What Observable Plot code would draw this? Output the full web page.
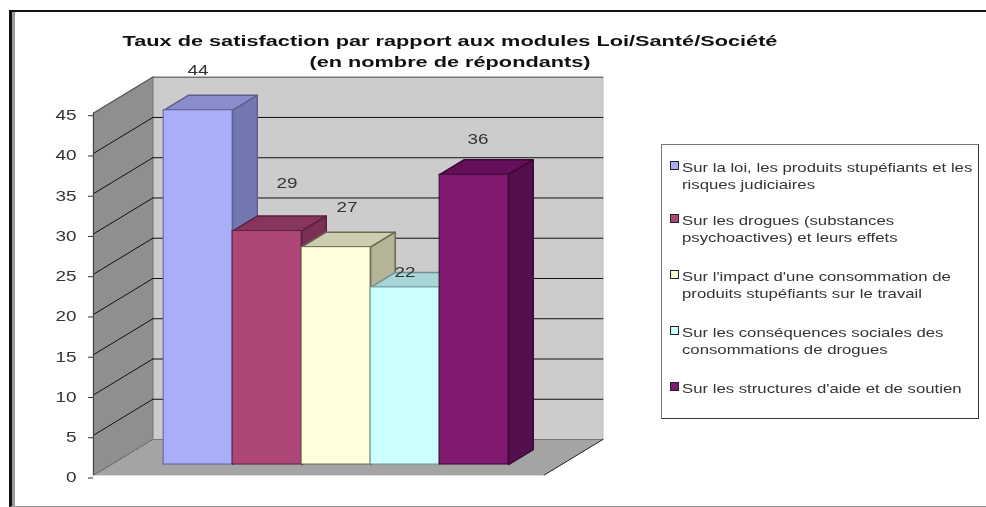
<!DOCTYPE html>
<html>
<head>
<meta charset="utf-8">
<script src="https://cdn.jsdelivr.net/npm/d3@7"></script>
<script src="https://cdn.jsdelivr.net/npm/@observablehq/plot@0.6"></script>
<style>
  html, body { margin: 0; padding: 0; background: #fff; }
  #page { position: relative; width: 986px; height: 507px; overflow: hidden; font-family: "Liberation Sans", Arial, sans-serif; }
  #chart { position: absolute; left: 0; top: 0; filter: blur(0.65px); }
  #edge { position: absolute; left: 9px; top: 10px; right: -4px; bottom: 0; border-top: 2px solid #111; border-left: 3px solid #111; box-shadow: inset 3px 0 0 #999; border-bottom: 1px solid #999; box-sizing: border-box; filter: blur(0.4px); }
  #title { position: absolute; left: 0; width: 900px; top: 30px; text-align: center; font-weight: bold; font-size: 15.2px; line-height: 21px; color: #111; filter: blur(0.5px); transform: scaleX(1.43); transform-origin: 450px 0; }
  #legend { position: absolute; left: 661px; top: 144px; width: 318px; height: 275px; box-sizing: border-box; border: 1px solid #333; border-left-color: #777; border-top-color: #777; filter: blur(0.6px); color: #333; font-size: 13.4px; line-height: 16.5px; }
  .item { position: absolute; left: 19.5px; width: 295px; }
  .row { transform: scaleX(1.25); transform-origin: 0 0; white-space: nowrap; }
  .key { position: absolute; left: -12px; top: 1px; width: 7px; height: 7px; border: 1px solid #222; }
</style>
</head>
<body>
<div id="page">
  <div id="chart"></div>
  <div id="edge"></div>
  <div id="title">Taux de satisfaction par rapport aux modules Loi/Santé/Société<br>(en nombre de répondants)</div>
  <div id="legend"></div>
</div>
<script>
const categories = [
  "Sur la loi, les produits stupéfiants et les risques judiciaires",
  "Sur les drogues (substances psychoactives) et leurs effets",
  "Sur l'impact d'une consommation de produits stupéfiants sur le travail",
  "Sur les conséquences sociales des consommations de drogues",
  "Sur les structures d'aide et de soutien"
];
const values = [44, 29, 27, 22, 36];
const yTicks = [0, 5, 10, 15, 20, 25, 30, 35, 40, 45];

// styles and layout, kept apart from the data
const legendLines = [
  ["Sur la loi, les produits stupéfiants et les", "risques judiciaires"],
  ["Sur les drogues (substances", "psychoactives) et leurs effets"],
  ["Sur l'impact d'une consommation de", "produits stupéfiants sur le travail"],
  ["Sur les conséquences sociales des", "consommations de drogues"],
  ["Sur les structures d'aide et de soutien"]
];
const legendTops = [15, 68, 124, 180, 236];
const front = ["#a8aef8", "#ac4778", "#ffffdc", "#ccffff", "#7f1a70"];
const side  = ["#7478b0", "#7a3055", "#b5b398", "#90b5b5", "#560f4e"];
const top_  = ["#8a8ccb", "#88355e", "#cfcdb0", "#a8d5d5", "#650f5a"];
const edge  = ["#5c5f90", "#5a2040", "#6a6a50", "#6f9090", "#3a0835"];
const labelNudge = [[0, -40], [20, -48], [11, -40], [0, -15], [4, -35]];

// oblique projection: category units along x, value units along y, depth 0..1 into the chart
const xMin = -0.754, xMax = 5.768;
const depthX = 0.86, depthY = 4.47;
const pt = (x, v, d) => ({px: x + d * depthX, py: v + d * depthY});
const face = (corners, opts) => Plot.line(
  [...corners, corners[0]].map(([x, v, d]) => pt(x, v, d)),
  {x: "px", y: "py", curve: "linear", ...opts}
);
const seg = (a, b, opts) => Plot.line([pt(...a), pt(...b)], {x: "px", y: "py", stroke: "#111", strokeWidth: 1, ...opts});

const marks = [
  // back wall, side wall, floor
  face([[xMin,0,1],[xMax,0,1],[xMax,45,1],[xMin,45,1]], {fill: "#cccccc", stroke: "#c4c4c4"}),
  face([[xMin,0,0],[xMin,0,1],[xMin,45,1],[xMin,45,0]], {fill: "#8f8f8f", stroke: "#808080"}),
  face([[xMin,0,0],[xMax,0,0],[xMax,0,1],[xMin,0,1]], {fill: "#a4a4a4", stroke: "none"}),
  seg([xMin,45,1],[xMax,45,1],{stroke:"#555"}),
  seg([xMin,0,1],[xMax,0,1],{stroke:"#777"}),
  seg([xMin,0,0],[xMin,0,1],{stroke:"#666", strokeDasharray:"3 2"}),
  seg([xMax,0,0],[xMax,0,1],{stroke:"#222"}),
  seg([xMin,0,0],[xMax,0,0],{stroke:"#ddd"})
];
for (const v of yTicks.filter(t => t > 0 && t < 45)) {
  marks.push(seg([xMin,v,0],[xMin,v,1]), seg([xMin,v,1],[xMax,v,1]));
}
marks.push(seg([xMin,45,0],[xMin,45,1],{stroke:"#555"}));

const d0 = 0.305, d1 = 0.72;
values.forEach((v, i) => {
  marks.push(
    face([[i,v,d0],[i+1,v,d0],[i+1,v,d1],[i,v,d1]], {fill: top_[i], stroke: edge[i]}),
    face([[i+1,0,d0],[i+1,0,d1],[i+1,v,d1],[i+1,v,d0]], {fill: side[i], stroke: edge[i]}),
    Plot.rect([pt(i,0,d0)], {
      x1: d => d.px, x2: d => d.px + 1,
      y1: d => d.py, y2: d => d.py + v,
      fill: front[i], stroke: edge[i], strokeWidth: 1
    })
  );
});
values.forEach((v, i) => {
  const p = pt(i + 0.5, v, d0);
  marks.push(Plot.text([p], {
    x: "px", y: "py", text: () => String(v),
    dx: labelNudge[i][0], dy: labelNudge[i][1],
    fontSize: 14, fill: "#333"
  }));
});
marks.push(
  Plot.axisY({ticks: yTicks, anchor: "left", tickSize: 5, tickPadding: 12, fontSize: 14, label: null, color: "#333", dy: 2.5}),
  Plot.ruleX([xMin], {y1: 0, y2: 45, stroke: "#444"})
);

const plot = Plot.plot({
  width: 986, height: 507,
  marginLeft: 93, marginRight: 443, marginTop: 112.7, marginBottom: 32,
  x: {domain: [xMin, xMax], axis: null},
  y: {domain: [0, 45], axis: null},
  style: {background: "transparent", fontFamily: '"Liberation Sans", Arial, sans-serif', overflow: "visible"},
  marks
});
// the reference picture is stretched horizontally: widen the glyphs of every text in place
d3.select(plot).selectAll("text").each(function () {
  const t = this.getAttribute("transform") || "";
  this.setAttribute("transform", (t + " scale(1.35,1)").trim());
});
document.getElementById("chart").appendChild(plot);

const legend = document.getElementById("legend");
legendLines.forEach((lines, i) => {
  const item = document.createElement("div");
  item.className = "item";
  item.style.top = legendTops[i] + "px";
  const key = document.createElement("span");
  key.className = "key";
  key.style.background = front[i];
  item.appendChild(key);
  lines.forEach(l => { const row = document.createElement("div"); row.className = "row"; row.textContent = l; item.appendChild(row); });
  legend.appendChild(item);
});
</script>
</body>
</html>
